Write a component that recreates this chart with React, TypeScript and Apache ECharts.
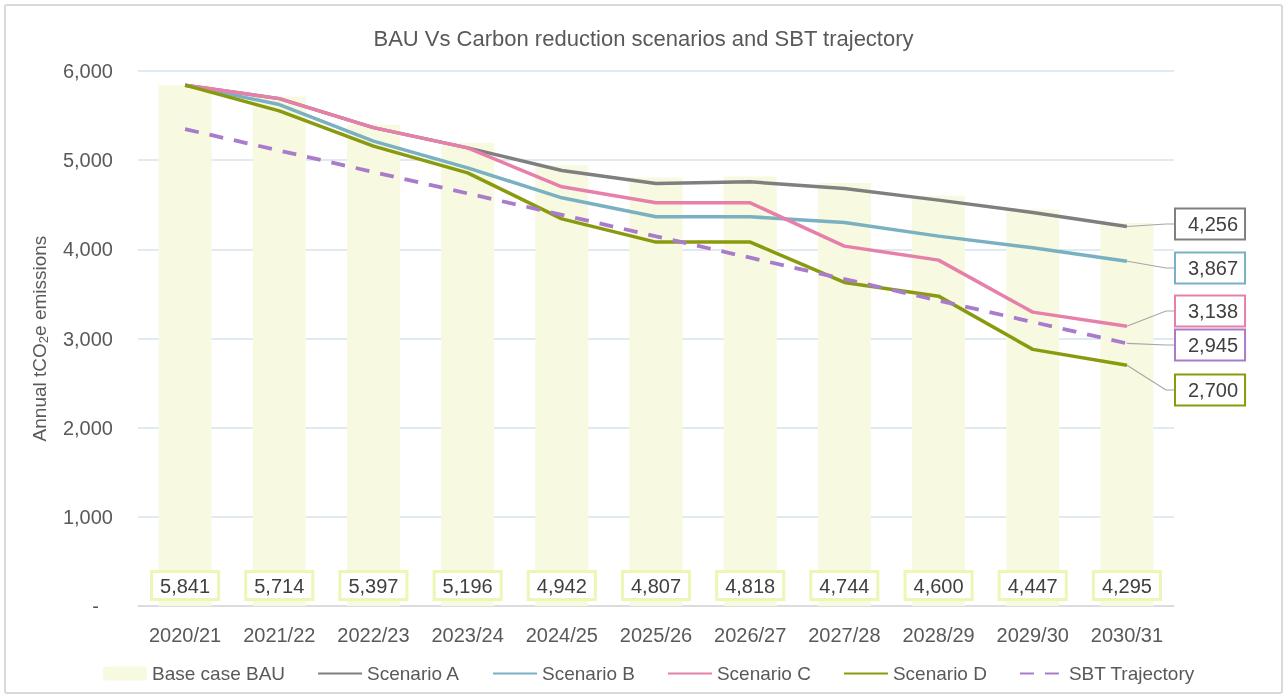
import React, { useEffect, useRef } from "react";
import * as echarts from "echarts";

const categories = ["2020/21", "2021/22", "2022/23", "2023/24", "2024/25", "2025/26", "2026/27", "2027/28", "2028/29", "2029/30", "2030/31"];
const bau = [5841, 5714, 5397, 5196, 4942, 4807, 4818, 4744, 4600, 4447, 4295];
const scenarioA = [5841, 5690, 5365, 5138, 4884, 4738, 4757, 4683, 4552, 4413, 4256];
const scenarioB = [5841, 5624, 5213, 4914, 4578, 4365, 4365, 4301, 4148, 4017, 3867];
const scenarioC = [5841, 5690, 5365, 5138, 4701, 4522, 4522, 4036, 3879, 3296, 3138];
const scenarioD = [5841, 5553, 5157, 4858, 4342, 4081, 4081, 3629, 3475, 2878, 2700];
const sbt = [5348, 5108, 4867, 4627, 4387, 4146, 3906, 3666, 3426, 3185, 2945];
const legendNames = ["Base case BAU", "Scenario A", "Scenario B", "Scenario C", "Scenario D", "SBT Trajectory"];

const FONT = "'Liberation Sans', Arial, sans-serif";
const TEXT = "#595959";

const fmt = (v: number) => v.toLocaleString("en-US");

// label box vertical positions (layout only)
const endLabelY: Record<string, number> = {
  "Scenario A": 224,
  "Scenario B": 268,
  "Scenario C": 311,
  "SBT Trajectory": 345,
  "Scenario D": 390,
};

function lineSeries(name: string, values: number[], color: string, dashed = false) {
  const last = values.length - 1;
  return {
    name,
    type: "line",
    symbol: "none",
    lineStyle: { color, width: dashed ? 3.8 : 3.5, type: dashed ? [14, 11] : "solid", cap: "butt" },
    itemStyle: { color },
    data: values.map((v, i) =>
      i === last
        ? {
            value: v,
            symbol: "circle",
            symbolSize: 1,
            label: {
              show: true,
              formatter: (p: any) => fmt(p.value),
              fontFamily: FONT,
              fontSize: 20,
              color: "#404040",
              backgroundColor: "#ffffff",
              borderColor: color,
              borderWidth: 2,
              padding: [5, 6, 4, 12],
            },
          }
        : v
    ),
    labelLine: {
      show: true,
      length2: 8,
      lineStyle: { color: "#a6a6a6", width: 1.2 },
    },
    labelLayout: () => ({
      x: 1176,
      y: endLabelY[name],
      align: "left",
      verticalAlign: "middle",
    }),
    z: 3,
  };
}

export default function App() {
  const ref = useRef<HTMLDivElement>(null);
  useEffect(() => {
    if (!ref.current) return;
    const chart = echarts.init(ref.current, undefined, { renderer: "svg" });
    chart.setOption({
      animation: false,
      textStyle: { fontFamily: FONT },
      title: {
        text: "BAU Vs Carbon reduction scenarios and SBT trajectory",
        left: "center",
        top: 22,
        textStyle: { fontFamily: FONT, fontSize: 22, fontWeight: "normal", color: TEXT },
      },
      graphic: [
        {
          type: "rect",
          shape: { x: 5, y: 5, width: 1277, height: 688, r: 2 },
          style: { fill: "none", stroke: "#d9d9d9", lineWidth: 2 },
          silent: true,
        },
      ],
      grid: { left: 138, right: 113, top: 71, bottom: 92, containLabel: false },
      legend: {
        bottom: 10,
        left: 98,
        itemWidth: 44,
        itemHeight: 14,
        itemGap: 32,
        textStyle: { fontFamily: FONT, fontSize: 19, color: TEXT },
        data: legendNames.map((n, i) => (i === 0 ? { name: n } : { name: n, itemStyle: { opacity: 0 } })),
      },
      xAxis: {
        type: "category",
        data: categories,
        axisTick: { show: false },
        axisLine: { lineStyle: { color: "#d9d9d9", width: 1.5 } },
        axisLabel: { fontFamily: FONT, fontSize: 20, color: TEXT, margin: 19 },
      },
      yAxis: {
        type: "value",
        min: 0,
        max: 6000,
        interval: 1000,
        name: "Annual tCO{sub|2}e emissions",
        nameLocation: "middle",
        nameGap: 88,
        nameRotate: 90,
        nameTextStyle: {
          fontFamily: FONT,
          fontSize: 19,
          color: TEXT,
          rich: { sub: { fontFamily: FONT, fontSize: 13, color: TEXT, verticalAlign: "bottom", padding: [9, 0, 0, 0] } },
        },
        axisLine: { show: false },
        axisTick: { show: false },
        splitLine: { lineStyle: { color: "#d5e3ec", width: 1.5 } },
        axisLabel: {
          fontFamily: FONT,
          fontSize: 20,
          color: TEXT,
          margin: 25,
          formatter: (v: number) => (v === 0 ? "{d|-}" : fmt(v)),
          rich: { d: { fontFamily: FONT, fontSize: 20, color: TEXT, padding: [0, 14, 0, 0] } },
        },
      },
      series: [
        {
          name: "Base case BAU",
          type: "bar",
          data: bau,
          barWidth: 53,
          itemStyle: { color: "#f7f9e0" },
          label: {
            show: true,
            position: "insideBottom",
            distance: 8,
            formatter: (p: any) => fmt(p.value),
            fontFamily: FONT,
            fontSize: 20,
            color: "#404040",
            backgroundColor: "#ffffff",
            borderColor: "#eef6b6",
            borderWidth: 3,
            padding: [3, 7, 2, 7],
          },
          z: 1,
        },
        lineSeries("Scenario A", scenarioA, "#7f7f7f"),
        lineSeries("Scenario B", scenarioB, "#79b0c2"),
        lineSeries("Scenario C", scenarioC, "#e680aa"),
        lineSeries("Scenario D", scenarioD, "#8a9a0f"),
        lineSeries("SBT Trajectory", sbt, "#a97ccb", true),
      ],
    });
    return () => chart.dispose();
  }, []);
  return <div ref={ref} style={{ position: "fixed", left: 0, top: 0, width: 1287, height: 698 }} />;
}
